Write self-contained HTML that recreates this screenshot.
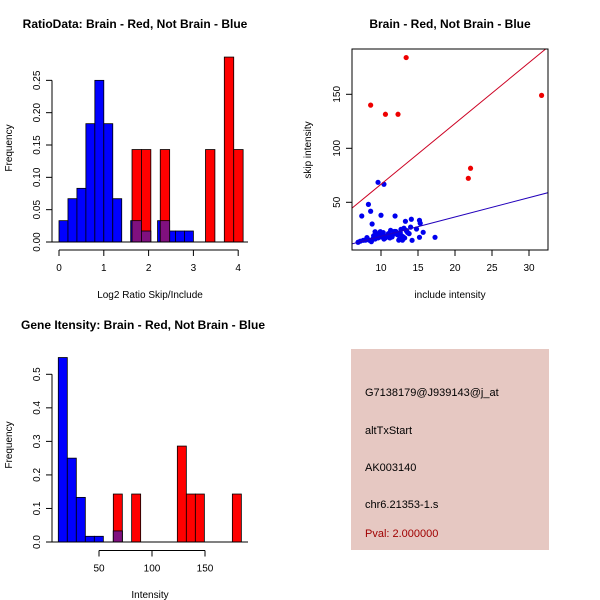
<!DOCTYPE html>
<html><head><meta charset="utf-8">
<style>
html,body{margin:0;padding:0;background:#fff;}
svg{display:block;font-family:"Liberation Sans",sans-serif;}
</style></head>
<body>
<svg id="c" width="600" height="600" viewBox="0 0 600 600">
<rect x="0" y="0" width="600" height="600" fill="#fff"/>
<text x="135" y="28" font-size="12" font-weight="bold" text-anchor="middle">RatioData: Brain - Red, Not Brain - Blue</text>
<text x="450" y="28" font-size="12" font-weight="bold" text-anchor="middle">Brain - Red, Not Brain - Blue</text>
<text x="143" y="329" font-size="12" font-weight="bold" text-anchor="middle">Gene Itensity: Brain - Red, Not Brain - Blue</text>
<text x="150" y="298" font-size="10" text-anchor="middle">Log2 Ratio Skip/Include</text>
<text transform="translate(12,148) rotate(-90)" font-size="10" text-anchor="middle">Frequency</text>
<text x="450" y="298" font-size="10" text-anchor="middle">include intensity</text>
<text transform="translate(311,150) rotate(-90)" font-size="10" text-anchor="middle">skip intensity</text>
<text x="150" y="598" font-size="10" text-anchor="middle">Intensity</text>
<text transform="translate(12,445) rotate(-90)" font-size="10" text-anchor="middle">Frequency</text>
<g>
<rect x="351" y="349" width="198" height="201" fill="#e6c8c2"/>
<text x="365" y="396" font-size="11">G7138179@J939143@j_at</text>
<text x="365" y="434" font-size="11">altTxStart</text>
<text x="365" y="471" font-size="11">AK003140</text>
<text x="365" y="508" font-size="11">chr6.21353-1.s</text>
<text x="365" y="537" font-size="11" fill="#a00000">Pval: 2.000000</text>
</g>
<g id="g1"></g><g id="g2"></g><g id="g3"></g>
</svg>
<script>
// ---- Panel 1: ratio histogram ----
const ratioBlueStarts=[0,0.2,0.4,0.6,0.8,1.0,1.2,1.6,1.8,2.2,2.4,2.6,2.8];
const ratioBlueFreq=[0.033,0.067,0.083,0.183,0.25,0.183,0.067,0.033,0.017,0.033,0.017,0.017,0.017];
const ratioRedStarts=[1.63,1.84,2.26,3.27,3.69,3.90];
const ratioRedFreq=[0.143,0.143,0.143,0.143,0.286,0.143];
const ratioXTicks=[0,1,2,3,4];
const ratioYTicks=["0.00","0.05","0.10","0.15","0.20","0.25"];
// ---- Panel 2: scatter ----
const redInc=[13.4,8.6,10.6,12.3,31.7,22.1,21.8];
const redSkip=[184,140,131.5,131.5,149,81.5,72.2];
const blueInc=[9.6,10.4,8.3,8.6,7.4,10.0,11.9,8.8,13.3,14.1,15.2,15.3,14.8,15.7,15.2,17.3,14.2,6.9,7.6,8.1,8.7,9.2,9.9,
 9.0,9.4,9.8,10.2,10.6,11.0,11.4,11.8,12.2,12.6,13.0,13.4,13.8,9.2,9.6,10.0,10.4,10.8,11.2,11.6,12.0,12.4,12.8,13.2,13.6,
 8.4,8.9,9.3,9.7,10.3,10.9,11.5,12.1,12.7,13.1,13.5,14.0,11.3,12.5,12.9,7.2,7.9];
const blueSkip=[68.5,66.7,48.1,41.7,37.3,38,37.3,29.9,32.4,34.3,33.3,30.6,25.3,22.2,17.6,17.6,14.8,13,14.8,17.3,13.6,22.8,22.8,
 19,21,18,20,17,21,19,23,20,22,18,24,21,16,17,18,16,19,17,20,23,15,19,17,22,
 15,16,18,20,22,19,18,21,25,26,23,27,24,16,15,14,15];
const redFit=[10.4,5.63];   // intercept, slope
const blueFit=[0.6,1.79];
const scatXTicks=[10,15,20,25,30];
const scatYTicks=[50,100,150];
// ---- Panel 3: intensity histogram ----
const intBlueStarts=[11.6,20.1,28.6,37.1,45.6,63.5];
const intBlueFreq=[0.55,0.25,0.133,0.017,0.017,0.033];
const intRedStarts=[63.5,80.8,123.9,132.4,140.9,175.8];
const intRedFreq=[0.143,0.143,0.286,0.143,0.143,0.143];
const intXTicks=[50,100,150];
const intYTicks=["0.0","0.1","0.2","0.3","0.4","0.5"];

const NS="http://www.w3.org/2000/svg";
function mk(parent,tag,attrs){const e=document.createElementNS(NS,tag);for(const k in attrs)e.setAttribute(k,attrs[k]);parent.appendChild(e);return e;}

function hist(g,o){
  const X=v=>o.x0+(v-o.xa)*o.xs, Y=v=>o.y0-v*o.ys;
  o.bS.forEach((s,i)=>{const r=mk(g,'rect',{x:X(s),y:Y(o.bF[i]),width:o.bw*o.xs,height:o.bF[i]*o.ys,fill:'#0000ff',stroke:'#000','stroke-width':0.8});
    
    });
  o.rS.forEach((s,i)=>{const r=mk(g,'rect',{x:X(s),y:Y(o.rF[i]),width:o.rw*o.xs,height:o.rF[i]*o.ys,fill:'#ff0000',stroke:'#000','stroke-width':0.8});
    
    
    const c=s+o.rw/2; let bf=0;
    o.bS.forEach((b,j)=>{if(c>=b&&c<b+o.bw)bf=o.bF[j];});
    if(bf>0){const p=mk(g,'rect',{x:X(s),y:Y(Math.min(bf,o.rF[i])),width:o.rw*o.xs,height:Math.min(bf,o.rF[i])*o.ys,fill:'#80107f',stroke:'#000','stroke-width':0.8});
      
      }
  });
  const yt=o.yT.map(Number);
  mk(g,'line',{x1:o.yax,y1:Y(yt[0]),x2:o.yax,y2:Y(yt[yt.length-1]),stroke:'#000'});
  o.yT.forEach(t=>{const v=Number(t);mk(g,'line',{x1:o.yax-6,y1:Y(v),x2:o.yax,y2:Y(v),stroke:'#000'});
    const tx=mk(g,'text',{transform:`translate(${o.yax-12},${Y(v)}) rotate(-90)`,'font-size':10,'text-anchor':'middle'});tx.textContent=t;
    
    });
  mk(g,'line',{x1:X(o.xT[0]),y1:o.xax,x2:X(o.xT[o.xT.length-1]),y2:o.xax,stroke:'#000'});
  o.xT.forEach(v=>{mk(g,'line',{x1:X(v),y1:o.xax,x2:X(v),y2:o.xax+6,stroke:'#000'});
    const tx=mk(g,'text',{x:X(v),y:o.xax+21,'font-size':10,'text-anchor':'middle'});tx.textContent=v;
    
    });
  mk(g,'line',{x1:o.yax,y1:o.y0,x2:o.bx,y2:o.y0,stroke:'#000'});
}
hist(document.getElementById('g1'),{x0:59,xa:0,xs:44.8,y0:242,ys:646.6,bS:ratioBlueStarts,bF:ratioBlueFreq,bw:0.2,rS:ratioRedStarts,rF:ratioRedFreq,rw:0.21,xT:ratioXTicks,yT:ratioYTicks,yax:52,xax:250,bx:248});
hist(document.getElementById('g3'),{x0:99,xa:50,xs:1.06,y0:542,ys:335.4,bS:intBlueStarts,bF:intBlueFreq,bw:8.5,rS:intRedStarts,rF:intRedFreq,rw:8.5,xT:intXTicks,yT:intYTicks,yax:52,xax:550.5,bx:248});

(function(){
  const g=document.getElementById('g2');
  const X=v=>381+(v-10)*7.4, Y=v=>202.3-(v-50)*1.08;
  const L=352,R=548,T=49,B=250;
  const cp=mk(g,'clipPath',{id:'cp'});mk(cp,'rect',{x:L,y:T,width:R-L,height:B-T});
  blueInc.forEach((x,i)=>{const c=mk(g,'circle',{cx:X(x),cy:Y(blueSkip[i]),r:2.6,fill:'#0000ee'});
    
    });
  redInc.forEach((x,i)=>{const c=mk(g,'circle',{cx:X(x),cy:Y(redSkip[i]),r:2.6,fill:'#ee0000'});
    
    });
  const xl=5,xr=33;
  const rl=mk(g,'line',{x1:X(xl),y1:Y(redFit[0]+redFit[1]*xl),x2:X(xr),y2:Y(redFit[0]+redFit[1]*xr),stroke:'#cc0022','stroke-width':1,'clip-path':'url(#cp)'});
  
  
  const bl=mk(g,'line',{x1:X(xl),y1:Y(blueFit[0]+blueFit[1]*xl),x2:X(xr),y2:Y(blueFit[0]+blueFit[1]*xr),stroke:'#2200bb','stroke-width':1,'clip-path':'url(#cp)'});
  
  
  const bx=mk(g,'rect',{x:L,y:T,width:R-L,height:B-T,fill:'none',stroke:'#000'});
  
  
  scatXTicks.forEach(v=>{mk(g,'line',{x1:X(v),y1:B,x2:X(v),y2:B+6,stroke:'#000'});
    const t=mk(g,'text',{x:X(v),y:B+21,'font-size':10,'text-anchor':'middle'});t.textContent=v;
    
    });
  scatYTicks.forEach(v=>{mk(g,'line',{x1:L-6,y1:Y(v),x2:L,y2:Y(v),stroke:'#000'});
    const t=mk(g,'text',{transform:`translate(${L-12},${Y(v)}) rotate(-90)`,'font-size':10,'text-anchor':'middle'});t.textContent=v;
    
    });
})();
</script>
</body></html>
